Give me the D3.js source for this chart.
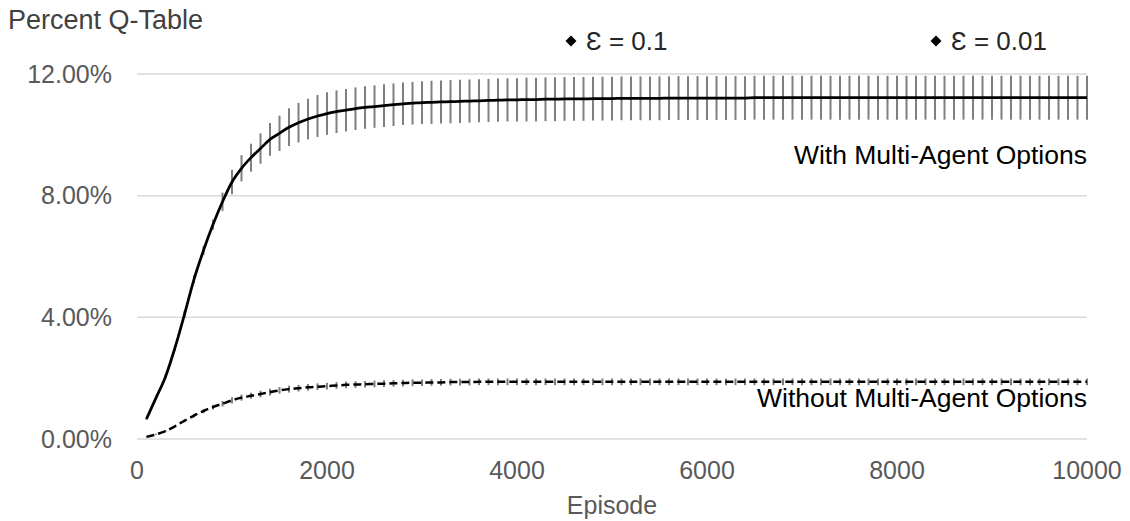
<!DOCTYPE html>
<html>
<head>
<meta charset="utf-8">
<script src="https://cdn.jsdelivr.net/npm/d3@7"></script>
<style>
  html, body { margin: 0; padding: 0; background: #fff; }
  svg { display: block; font-family: "Liberation Sans", Arial, sans-serif; }
</style>
</head>
<body>
<svg id="chart" width="1130" height="521"></svg>
<script>
// ---------------------------------------------------------------------------
// Data (one point every 100 episodes)
// ---------------------------------------------------------------------------
const episodes = d3.range(100, 10001, 100);

// Percent of Q-table explored, with multi-agent options
const withMean = [
  0.66, 1.35, 2.05, 3.00, 4.10, 5.25, 6.20, 7.05, 7.80, 8.45,
  8.90, 9.25, 9.55, 9.85, 10.05, 10.25, 10.40, 10.52, 10.62, 10.70,
  10.76, 10.81, 10.86, 10.90, 10.93, 10.96, 10.99, 11.02, 11.04, 11.06,
  11.07, 11.08, 11.09, 11.10, 11.11, 11.12, 11.13, 11.14, 11.15, 11.15,
  11.16, 11.16, 11.17, 11.17, 11.18, 11.18, 11.18, 11.19, 11.19, 11.19,
  11.20, 11.20, 11.20, 11.20, 11.20, 11.21, 11.21, 11.21, 11.21, 11.21,
  11.21, 11.21, 11.21, 11.21, 11.22, 11.22, 11.22, 11.22, 11.22, 11.22,
  11.22, 11.22, 11.22, 11.22, 11.22, 11.22, 11.22, 11.22, 11.22, 11.22,
  11.22, 11.22, 11.22, 11.22, 11.22, 11.22, 11.22, 11.22, 11.22, 11.22,
  11.22, 11.22, 11.22, 11.22, 11.22, 11.22, 11.22, 11.22, 11.22, 11.22
];
const withErr = [
  0.03, 0.05, 0.07, 0.09, 0.11, 0.13, 0.15, 0.17, 0.30, 0.40,
  0.43, 0.46, 0.50, 0.54, 0.58, 0.62, 0.65, 0.67, 0.69, 0.70,
  0.70, 0.70, 0.70, 0.70, 0.70, 0.70, 0.70, 0.70, 0.70, 0.70,
  0.71, 0.71, 0.71, 0.71, 0.71, 0.71, 0.71, 0.71, 0.71, 0.71,
  0.72, 0.72, 0.72, 0.72, 0.72, 0.72, 0.72, 0.72, 0.72, 0.72,
  0.72, 0.72, 0.72, 0.72, 0.72, 0.72, 0.72, 0.72, 0.72, 0.72,
  0.72, 0.72, 0.72, 0.72, 0.72, 0.72, 0.72, 0.72, 0.72, 0.72,
  0.72, 0.72, 0.72, 0.72, 0.72, 0.72, 0.72, 0.72, 0.72, 0.72,
  0.72, 0.72, 0.72, 0.72, 0.72, 0.72, 0.72, 0.72, 0.72, 0.72,
  0.72, 0.72, 0.72, 0.72, 0.72, 0.72, 0.72, 0.72, 0.72, 0.72
];

// Percent of Q-table explored, without multi-agent options
const withoutMean = [
  0.07, 0.15, 0.26, 0.42, 0.60, 0.77, 0.92, 1.05, 1.16, 1.27,
  1.36, 1.42, 1.48, 1.54, 1.60, 1.64, 1.67, 1.70, 1.72, 1.74,
  1.76, 1.78, 1.79, 1.80, 1.81, 1.82, 1.83, 1.84, 1.85, 1.85,
  1.86, 1.86, 1.87, 1.87, 1.87, 1.88, 1.88, 1.88, 1.88, 1.88,
  1.88, 1.88, 1.88, 1.88, 1.88, 1.88, 1.88, 1.88, 1.88, 1.88,
  1.88, 1.88, 1.88, 1.88, 1.88, 1.88, 1.88, 1.88, 1.88, 1.88,
  1.88, 1.88, 1.88, 1.88, 1.88, 1.88, 1.88, 1.88, 1.88, 1.88,
  1.88, 1.88, 1.88, 1.88, 1.88, 1.88, 1.88, 1.88, 1.88, 1.88,
  1.88, 1.88, 1.88, 1.88, 1.88, 1.88, 1.88, 1.88, 1.88, 1.88,
  1.88, 1.88, 1.88, 1.88, 1.88, 1.88, 1.88, 1.88, 1.88, 1.88
];
const withoutErr = [
  0.01, 0.02, 0.03, 0.04, 0.05, 0.06, 0.07, 0.08, 0.09, 0.10,
  0.10, 0.10, 0.11, 0.11, 0.11, 0.11, 0.11, 0.11, 0.11, 0.11,
  0.11, 0.11, 0.11, 0.11, 0.11, 0.11, 0.11, 0.11, 0.11, 0.11,
  0.11, 0.11, 0.11, 0.11, 0.11, 0.11, 0.11, 0.11, 0.11, 0.11,
  0.11, 0.11, 0.11, 0.11, 0.11, 0.11, 0.11, 0.11, 0.11, 0.11,
  0.11, 0.11, 0.11, 0.11, 0.11, 0.11, 0.11, 0.11, 0.11, 0.11,
  0.11, 0.11, 0.11, 0.11, 0.11, 0.11, 0.11, 0.11, 0.11, 0.11,
  0.11, 0.11, 0.11, 0.11, 0.11, 0.11, 0.11, 0.11, 0.11, 0.11,
  0.11, 0.11, 0.11, 0.11, 0.11, 0.11, 0.11, 0.11, 0.11, 0.11,
  0.11, 0.11, 0.11, 0.11, 0.11, 0.11, 0.11, 0.11, 0.11, 0.11
];

const xTicks = [0, 2000, 4000, 6000, 8000, 10000];
const yTicks = [0, 4, 8, 12];
const legendLabels = ["\u0190 = 0.1", "\u0190 = 0.01"];

// ---------------------------------------------------------------------------
// Layout
// ---------------------------------------------------------------------------
const svg = d3.select("#chart");
const FONT = 25;
const TICK_COLOR = "#595959";

const x = d3.scaleLinear().domain([0, 10000]).range([137, 1087]);
const y = d3.scaleLinear().domain([0, 12]).range([439, 74]);

// Horizontal gridlines (the 0 line doubles as the x axis line)
svg.append("g")
  .selectAll("line")
  .data(yTicks)
  .join("line")
  .attr("x1", x(0)).attr("x2", x(10000))
  .attr("y1", d => y(d)).attr("y2", d => y(d))
  .attr("stroke", "#d9d9d9")
  .attr("stroke-width", 1.5);

// Y tick labels
svg.append("g")
  .selectAll("text")
  .data(yTicks)
  .join("text")
  .attr("x", 112)
  .attr("y", d => y(d))
  .attr("dy", "0.35em")
  .attr("text-anchor", "end")
  .attr("font-size", FONT)
  .attr("fill", TICK_COLOR)
  .text(d => d3.format(".2f")(d) + "%");

// X tick labels
svg.append("g")
  .selectAll("text")
  .data(xTicks)
  .join("text")
  .attr("x", d => x(d))
  .attr("y", 470)
  .attr("dy", "0.35em")
  .attr("text-anchor", "middle")
  .attr("font-size", FONT)
  .attr("fill", TICK_COLOR)
  .text(d => d);

// Axis titles
svg.append("text")
  .attr("x", 612).attr("y", 505).attr("dy", "0.35em")
  .attr("text-anchor", "middle")
  .attr("font-size", FONT)
  .attr("fill", TICK_COLOR)
  .text("Episode");

svg.append("text")
  .attr("x", 8).attr("y", 20).attr("dy", "0.35em")
  .attr("font-size", 27)
  .attr("fill", "#404040")
  .text("Percent Q-Table");

// ---------------------------------------------------------------------------
// Series: error bars first, the mean line on top
// ---------------------------------------------------------------------------
function drawSeries(mean, err, opts) {
  const pts = episodes.map((e, i) => ({ e, m: mean[i], s: err[i] }));

  svg.append("g")
    .selectAll("line")
    .data(pts)
    .join("line")
    .attr("x1", d => x(d.e)).attr("x2", d => x(d.e))
    .attr("y1", d => y(d.m - d.s)).attr("y2", d => y(d.m + d.s))
    .attr("stroke", "#7f7f7f")
    .attr("stroke-width", 2);

  svg.append("path")
    .datum(pts)
    .attr("fill", "none")
    .attr("stroke", "#000")
    .attr("stroke-width", opts.width)
    .attr("stroke-dasharray", opts.dash || null)
    .attr("d", d3.line().curve(d3.curveMonotoneX).x(d => x(d.e)).y(d => y(d.m)));
}

drawSeries(withMean, withErr, { width: 2.75 });
drawSeries(withoutMean, withoutErr, { width: 2.5, dash: "8,4" });

// Curve labels
svg.append("text")
  .attr("x", 1087).attr("y", 155).attr("dy", "0.35em")
  .attr("text-anchor", "end")
  .attr("font-size", 26.5)
  .attr("fill", "#000")
  .text("With Multi-Agent Options");

svg.append("text")
  .attr("x", 1087).attr("y", 398).attr("dy", "0.35em")
  .attr("text-anchor", "end")
  .attr("font-size", 26.5)
  .attr("fill", "#000")
  .text("Without Multi-Agent Options");

// Legend
const legendX = [571, 936];
const lg = svg.append("g")
  .selectAll("g")
  .data(legendLabels)
  .join("g")
  .attr("transform", (d, i) => `translate(${legendX[i]},41)`);

lg.append("path")
  .attr("d", d3.symbol(d3.symbolSquare).size(60))
  .attr("transform", "rotate(45)")
  .attr("fill", "#000");

lg.append("text")
  .attr("x", 15)
  .attr("dy", "0.35em")
  .attr("font-size", 26)
  .attr("fill", "#262626")
  .text(d => d);
</script>
</body>
</html>
